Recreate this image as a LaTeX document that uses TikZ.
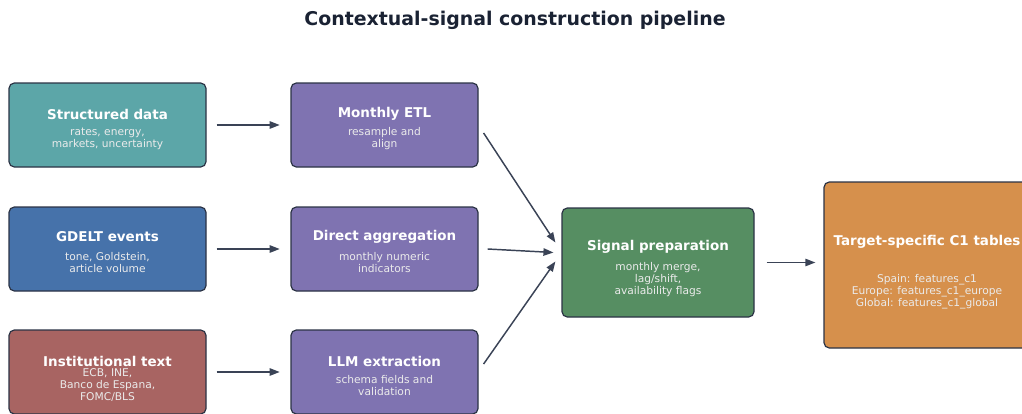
\documentclass[tikz,border=0pt]{standalone}
\usepackage{fontspec}
\setmainfont{DejaVu Sans}
\usepackage{tikz}
\usetikzlibrary{arrows.meta}

\definecolor{teal}{HTML}{5CA6A8}
\definecolor{steel}{HTML}{4672AA}
\definecolor{brick}{HTML}{A86462}
\definecolor{lilac}{HTML}{7F73B1}
\definecolor{moss}{HTML}{568E62}
\definecolor{ochre}{HTML}{D6904C}
\definecolor{edgec}{HTML}{2B3345}
\definecolor{arrowc}{HTML}{3A4356}
\definecolor{titlec}{HTML}{1A2233}

\begin{document}
\begin{tikzpicture}[x=0.75pt,y=-0.75pt,
                box/.style={draw=edgec,line width=0.9pt,rounded corners=4pt,inner sep=0pt},
                head/.style={text=white,font=\fontsize{10.1}{12}\selectfont\bfseries},
                sub/.style={text=white!92!black,align=center,font=\fontsize{8}{9}\selectfont},
                arr/.style={draw=arrowc,line width=1.1pt,-{Triangle[length=7.5pt,width=5.5pt]}}]
                \clip (0,0) rectangle (1022,414);
                \useasboundingbox (0,0) rectangle (1022,414);

                \node[anchor=center,text=titlec,font=\fontsize{14.2}{16}\selectfont\bfseries] (title) at (515,20) {Contextual-signal construction pipeline};

                \node[box,fill=teal,minimum width=147.75pt,minimum height=63pt] (sd) at (107.5,125) {};
                \node[box,fill=steel,minimum width=147.75pt,minimum height=63pt] (gd) at (107.5,249) {};
                \node[box,fill=brick,minimum width=147.75pt,minimum height=63pt] (it) at (107.5,372) {};
                \node[box,fill=lilac,minimum width=140.25pt,minimum height=63pt] (etl) at (384.5,125) {};
                \node[box,fill=lilac,minimum width=140.25pt,minimum height=63pt] (da) at (384.5,249) {};
                \node[box,fill=lilac,minimum width=140.25pt,minimum height=63pt] (llm) at (384.5,372) {};
                \node[box,fill=moss,minimum width=144pt,minimum height=81.75pt] (sig) at (658,262.5) {};
                \node[box,fill=ochre,minimum width=154.5pt,minimum height=124.5pt] (tgt) at (927,265) {};

                \node[head] (sdh) at (107.5,114) {Structured data};
                \node[sub] (sds) at (107.5,139) {rates, energy,\\markets, uncertainty};
                \node[head] (gdh) at (107.5,237) {GDELT events};
                \node[sub] (gds) at (107.5,263) {tone, Goldstein,\\article volume};
                \node[head] (ith) at (107.5,361) {Institutional text};
                \node[sub] (its) at (107.5,385.5) {ECB, INE,\\Banco de Espana,\\FOMC/BLS};
                \node[head] (etlh) at (384.5,114) {Monthly ETL};
                \node[sub] (etls) at (384.5,139) {resample and\\align};
                \node[head] (dah) at (384.5,237) {Direct aggregation};
                \node[sub] (das) at (384.5,263) {monthly numeric\\indicators};
                \node[head] (llmh) at (384.5,361) {LLM extraction};
                \node[sub] (llms) at (384.5,386) {schema fields and\\validation};
                \node[head] (sigh) at (658,247) {Signal preparation};
                \node[sub] (sigs) at (658,280) {monthly merge,\\lag/shift,\\availability flags};
                \node[head] (tgth) at (927,242) {Target-specific C1 tables};
                \node[sub] (tgts) at (927,292) {Spain: features\_c1\\Europe: features\_c1\_europe\\Global: features\_c1\_global};

                \draw[arr,shorten <=7.5pt,shorten >=8pt] (sd) -- (etl);
                \draw[arr,shorten <=7.5pt,shorten >=8pt] (gd) -- (da);
                \draw[arr,shorten <=7.5pt,shorten >=8pt] (it) -- (llm);
                \draw[arr] ([shift={(5,8)}]etl.east) -- ([shift={(-6,-20)}]sig.west);
                \draw[arr] ([shift={(9,0)}]da.east) -- ([shift={(-8,-10)}]sig.west);
                \draw[arr] ([shift={(5,-8)}]llm.east) -- ([shift={(-6,-1)}]sig.west);
                \draw[arr,shorten <=9pt,shorten >=6pt] (sig.east) -- (tgt.west |- sig.east);
\end{tikzpicture}
\end{document}
